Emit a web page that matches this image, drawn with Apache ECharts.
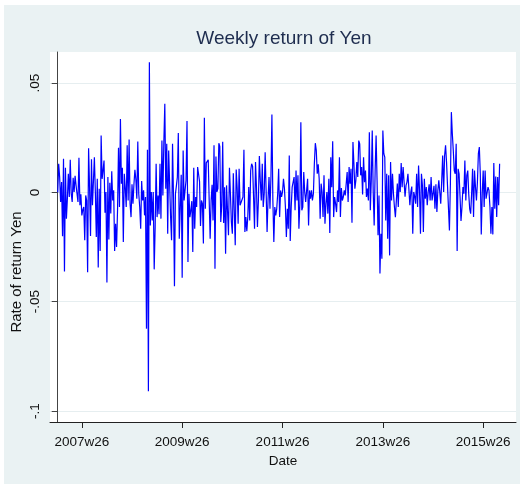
<!DOCTYPE html>
<html>
<head>
<meta charset="utf-8">
<title>Weekly return of Yen</title>
<script src="https://cdn.jsdelivr.net/npm/echarts@6/dist/echarts.min.js"></script>
<style>
    html, body { margin: 0; padding: 0; background: #fff; }
    #chart { position: absolute; left: 4px; top: 5px; width: 516px; height: 479px; }
</style>
</head>
<body>
<div id="chart"></div>
<script>
// weekly returns, 2007w1 onwards
var ret2007 = [0, .0131, .0070, -.0044, .0047, -.0201, .0154, -.0362, .0113, -.0120, -.0030, .0085, -.0021, .0149, -.0006, -.0044, .0067, .0002, .0076, .0032, .0040,
    -.0044, .0158, -.0059, -.0009, -.0105, -.0080, -.0067, -.0219, -.0014, -.0037, -.0365, .0202, .0024, -.0199, .0152, -.0059, .0050, .0161, .0002, -.0204, .0062, -.0344,
    .0017, -.0268, .0260, .0062, .0100, .0146, -.0093, .0002, -.0412, .0070, -.0215, .0044, -.0097, .0097, -.0037, .0010, -.0268, -.0143, -.0250, -.0082, .0204, -.0067,
    .0336, .0040, .0113, -.0227, .0085, .0020, -.0067, .0215, -.0037, .0242, -.0052, -.0113, .0037, -.0052, .0037, .0103, .0060, -.0029, .0233, -.0006, -.0067, -.0166,
    .0052, -.0037, .0010, -.0105, -.0021, -.0623, .0195, -.0909, .0595, -.0151, .0002, -.0128, .0002, -.0352, -.0158, .0131, -.0113, -.0014, -.0100, .0131, -.0120,
    .0237, -.0014, .0230, .0405, .0017, .0222, -.0189, .0192];
var ret2009 = [.0199, -.0113, -.0219, .0222, -.0021, -.0429, -.0006, .0030, .0070, .0271, -.0212, -.0067, .0081, -.0390, .0192, -.0037, .0010, .0055, .0326, -.0318, -.0006, -.0113,
    -.0082, -.0040, -.0272, .0113, -.0166, -.0021, -.0067, .0116, .0123, .0050, -.0154, -.0037, -.0052, -.0234, .0341, -.0075, .0135, .0131, .0149, -.0037, -.0212, -.0037,
    .0035, -.0128, .0215, -.0349, .0164, .0002, .0017, .0225, .0210, -.0135, -.0060, .0231, -.0140, .0024, -.0280, .0032, .0032, -.0196, .0113, -.0006, -.0135,
    -.0189, .0088, -.0082, -.0242, .0105, .0020, -.0143, .0108, -.0059, -.0067, -.0052, -.0021, .0195, -.0181, -.0113, -.0177, -.0113, .0024, -.0128, .0100, .0131,
    .0119, -.0021, -.0166, .0139, .0024, -.0158, -.0037, .0166, .0050, -.0037, .0131, -.0067, -.0006, .0184, .0009, -.0181, -.0030, .0070, -.0075, .0070, .0356, -.0037,
    -.0227, -.0067, -.0105, -.0075, -.0006, .0108, -.0113, .0009];
var ret2011 = [-.0021, .0002, .0062, .0017, -.0067, -.0204, -.0075, -.0166, .0169, -.0222, -.0067, .0024, .0017, .0070, -.0082, .0100, -.0037, .0078, -.0166, -.0052,
    .0321, -.0082, -.0067, .0093, .0002, -.0044, .0009, .0062, -.0151, .0009, -.0029, .0009, -.0037, -.0006, .0131, .0225, .0192, .0085, .0128, .0062,
    -.0120, .0040, .0002, -.0113, .0078, -.0143, -.0052, .0002, -.0097, .0062, -.0186, .0161, .0024, .0234, -.0113, -.0021, -.0052, -.0090, .0009, -.0044, .0161,
    -.0113, .0020, -.0037, -.0021, .0009, -.0014, -.0021, .0093, -.0044, .0116, .0040, .0108, -.0139, .0230, .0131, .0017, .0055, .0139, .0070, .0237, .0222,
    .0078, .0116, -.0010, .0161, .0047, .0100, -.0021, .0017, -.0037, .0275, -.0082, .0055, .0283, .0002, -.0151, .0100, .0260, .0055, -.0196, -.0014, -.0371,
    -.0189, -.0303, .0283, .0177, .0161, -.0128, .0085, -.0212, .0078, -.0288];
var ret2013 = [.0139, -.0037, .0085, -.0006, -.0067, -.0113, -.0113, .0040, -.0067, .0085, .0002, .0134, .0024, .0116, .0108, -.0020, .0032, .0047, .0085, .0093, -.0059,
    .0002, .0027, -.0189, .0002, -.0018, -.0052, .0085, -.0067, .0123, .0010, -.0189, .0085, .0032, -.0181, .0062, -.0029, .0024, -.0059, .0002, .0037, -.0037,
    .0070, -.0037, -.0006, .0030, -.0075, .0037, -.0090, .0009, .0055, .0062, -.0052, .0055, .0169, .0002, .0169, .0215, .0139, .0032, .0024, -.0174, .0040,
    .0367, .0268, .0192, .0100, .0085, .0222, -.0268, .0108, .0085, -.0021, -.0131, -.0067, .0024, -.0006, .0146, -.0037, .0078, .0100, -.0006, -.0075,
    -.0097, -.0006, .0108, -.0113, .0100, .0024, -.0037, .0047, .0177, .0207, .0085, -.0192, -.0006, .0100, -.0067, .0100, -.0029, -.0021, .0024, .0009,
    -.0067, -.0189, -.0067, -.0192, .0134, -.0075, .0073, -.0113, .0070, -.0059, .0131];

// axis ticks (week number counted from 2007w1 = 0)
var xTickWeeks = [25, 129, 233, 337, 441];
var xTickLabels = ['2007w26', '2009w26', '2011w26', '2013w26', '2015w26'];
var yTickValues = [-0.1, -0.05, 0, 0.05];
var yTickLabels = ['-.1', '-.05', '0', '.05'];

var returns = ret2007.concat(ret2009, ret2011, ret2013);
var seriesData = returns.map(function (v, i) { return [i, v]; });

var chart = echarts.init(document.getElementById('chart'));

var option = {
    backgroundColor: '#EAF2F3',
    animation: false,
    title: {
        text: 'Weekly return of Yen',
        left: 275,
        top: 19,
        textAlign: 'center',
        textStyle: {
            fontFamily: 'Liberation Sans',
            fontSize: 19,
            fontWeight: 'normal',
            color: '#1E2D4F'
        }
    },
    grid: {
        left: 46,
        top: 47,
        right: 4,
        bottom: 62,
        show: true,
        backgroundColor: '#fff',
        borderWidth: 0
    },
    xAxis: {
        type: 'value',
        min: -8,
        max: 475,
        name: 'Date',
        nameLocation: 'middle',
        nameGap: 31,
        nameTextStyle: { fontFamily: 'Liberation Sans', fontSize: 13.5, color: '#111' },
        axisLine: { show: true, onZero: false, lineStyle: { color: '#222', width: 1 } },
        axisTick: { show: true, length: 6, customValues: xTickWeeks, lineStyle: { color: '#222' } },
        axisLabel: {
            customValues: xTickWeeks,
            margin: 13,
            fontFamily: 'Liberation Sans',
            fontSize: 13.5,
            color: '#111',
            formatter: function (v) {
                return xTickLabels[xTickWeeks.indexOf(v)];
            }
        },
        splitLine: { show: false }
    },
    yAxis: {
        type: 'value',
        min: -0.105,
        max: 0.0642,
        axisLine: { show: true, lineStyle: { color: '#444', width: 1 } },
        axisTick: { show: true, length: 6, customValues: yTickValues, lineStyle: { color: '#444' } },
        axisLabel: {
            customValues: yTickValues,
            rotate: 90,
            margin: 8,
            fontFamily: 'Liberation Sans',
            fontSize: 13.5,
            color: '#111',
            formatter: function (v) {
                var k = yTickValues.indexOf(v);
                return k >= 0 ? yTickLabels[k] : '';
            }
        },
        splitLine: { show: true, lineStyle: { color: '#E6EEF0', width: 1.2 } }
    },
    graphic: [{
        type: 'text',
        x: 13,
        y: 267,
        rotation: Math.PI / 2,
        style: {
            text: 'Rate of return Yen',
            fontFamily: 'Liberation Sans',
            fontSize: 15,
            fill: '#111',
            align: 'center',
            verticalAlign: 'middle'
        }
    }],
    series: [{
        type: 'line',
        data: seriesData,
        showSymbol: false,
        lineStyle: { color: '#0000FF', width: 1.2 }
    }]
};

chart.setOption(option);
</script>
</body>
</html>
